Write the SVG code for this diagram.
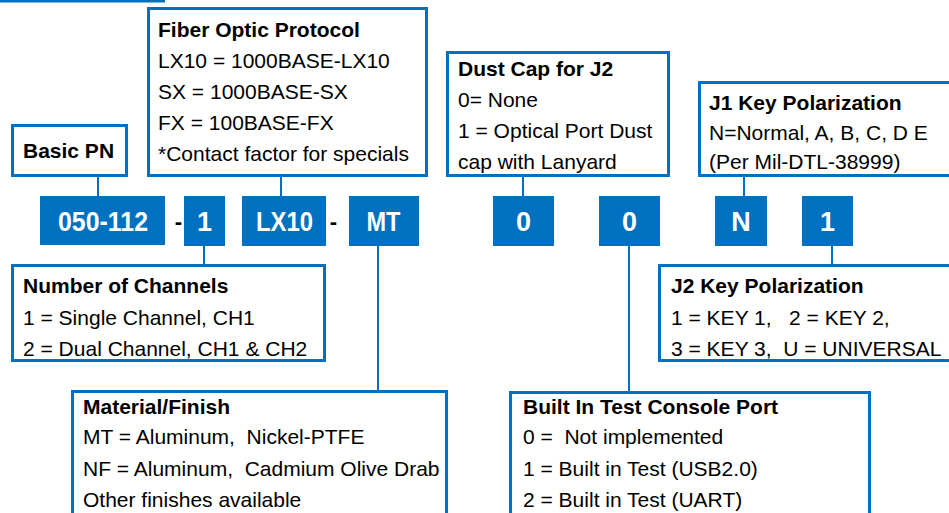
<svg xmlns="http://www.w3.org/2000/svg" width="949" height="513" viewBox="0 0 949 513">
<style>
  .box { fill: #ffffff; stroke: #0070C0; stroke-width: 3; }
  .code { fill: #0070C0; }
  .conn { stroke: #0070C0; stroke-width: 2; fill: none; }
  text { font-family: "Liberation Sans", Arial, sans-serif; fill: #000000; }
  .t { font-size: 21px; font-weight: bold; }
  .l { font-size: 21px; }
  .c { font-size: 27px; font-weight: bold; fill: #ffffff; text-anchor: middle; }
  .d { font-size: 22px; font-weight: bold; text-anchor: middle; }
</style>
<rect x="0" y="0" width="165" height="2.5" fill="#0070C0"/>
<g id="connectors">
  <line class="conn" x1="98" y1="177" x2="98" y2="197"/>
  <line class="conn" x1="281" y1="177" x2="281" y2="197"/>
  <line class="conn" x1="523" y1="177" x2="523" y2="197"/>
  <line class="conn" x1="744" y1="177" x2="744" y2="197"/>
  <line class="conn" x1="204" y1="245" x2="204" y2="265"/>
  <line class="conn" x1="378" y1="245" x2="378" y2="391"/>
  <line class="conn" x1="629" y1="245" x2="629" y2="392"/>
  <line class="conn" x1="832" y1="245" x2="832" y2="265"/>
</g>
<g id="fiber">
  <rect class="box" x="148.5" y="8.5" width="278" height="167"/>
  <text class="t" x="158" y="37">Fiber Optic Protocol</text>
  <text class="l" x="158" y="68">LX10 = 1000BASE-LX10</text>
  <text class="l" x="158" y="99">SX = 1000BASE-SX</text>
  <text class="l" x="158" y="130">FX = 100BASE-FX</text>
  <text class="l" x="158" y="161">*Contact factor for specials</text>
</g>
<g id="basic">
  <rect class="box" x="12.5" y="125.5" width="114" height="50"/>
  <text class="t" x="23" y="158">Basic PN</text>
</g>
<g id="dustcap">
  <rect class="box" x="447.5" y="52.5" width="221" height="123"/>
  <text class="t" x="458" y="76">Dust Cap for J2</text>
  <text class="l" x="458" y="107">0= None</text>
  <text class="l" x="458" y="138">1 = Optical Port Dust</text>
  <text class="l" x="458" y="169">cap with Lanyard</text>
</g>
<g id="j1">
  <rect class="box" x="699.5" y="82.5" width="270" height="93"/>
  <text class="t" x="709" y="110">J1 Key Polarization</text>
  <text class="l" x="709" y="140">N=Normal, A, B, C, D E</text>
  <text class="l" x="709" y="169">(Per Mil-DTL-38999)</text>
</g>
<g id="pn-050">
  <rect class="code" x="40" y="196" width="125" height="49"/>
  <text class="c" x="103" y="231" textLength="90" lengthAdjust="spacingAndGlyphs">050-112</text>
</g>
<text class="d" x="178.5" y="229">-</text>
<g id="pn-ch">
  <rect class="code" x="184" y="196" width="41" height="50"/>
  <text class="c" x="204.5" y="231">1</text>
</g>
<g id="pn-lx10">
  <rect class="code" x="242" y="196" width="84" height="50"/>
  <text class="c" x="284.5" y="231" textLength="57" lengthAdjust="spacingAndGlyphs">LX10</text>
</g>
<text class="d" x="333.5" y="229">-</text>
<g id="pn-mt">
  <rect class="code" x="349" y="196" width="70" height="50"/>
  <text class="c" x="383.5" y="231" textLength="34" lengthAdjust="spacingAndGlyphs">MT</text>
</g>
<g id="pn-dust">
  <rect class="code" x="493" y="196" width="61" height="50"/>
  <text class="c" x="523.5" y="231">0</text>
</g>
<g id="pn-bit">
  <rect class="code" x="599" y="196" width="61" height="50"/>
  <text class="c" x="629.5" y="231">0</text>
</g>
<g id="pn-j1">
  <rect class="code" x="715" y="196" width="52" height="50"/>
  <text class="c" x="741" y="231">N</text>
</g>
<g id="pn-j2">
  <rect class="code" x="802" y="196" width="51" height="50"/>
  <text class="c" x="827.5" y="231">1</text>
</g>
<g id="channels">
  <rect class="box" x="12.5" y="265.5" width="312" height="95"/>
  <text class="t" x="23" y="293">Number of Channels</text>
  <text class="l" x="23" y="325">1 = Single Channel, CH1</text>
  <text class="l" x="23" y="356">2 = Dual Channel, CH1 &amp; CH2</text>
</g>
<g id="j2">
  <rect class="box" x="659.5" y="265.5" width="310" height="95"/>
  <text class="t" x="671" y="293">J2 Key Polarization</text>
  <text class="l" x="671" y="325" xml:space="preserve">1 = KEY 1,   2 = KEY 2,</text>
  <text class="l" x="671" y="356" xml:space="preserve">3 = KEY 3,  U = UNIVERSAL</text>
</g>
<g id="material">
  <rect class="box" x="72.5" y="391.5" width="374" height="140"/>
  <text class="t" x="83" y="414">Material/Finish</text>
  <text class="l" x="83" y="444" xml:space="preserve">MT = Aluminum,  Nickel-PTFE</text>
  <text class="l" x="83" y="476" xml:space="preserve">NF = Aluminum,  Cadmium Olive Drab</text>
  <text class="l" x="83" y="507">Other finishes available</text>
</g>
<g id="bit">
  <rect class="box" x="510.5" y="392.5" width="359" height="140"/>
  <text class="t" x="523" y="414">Built In Test Console Port</text>
  <text class="l" x="523" y="444" xml:space="preserve">0 =  Not implemented</text>
  <text class="l" x="523" y="476">1 = Built in Test (USB2.0)</text>
  <text class="l" x="523" y="507">2 = Built in Test (UART)</text>
</g>
</svg>
